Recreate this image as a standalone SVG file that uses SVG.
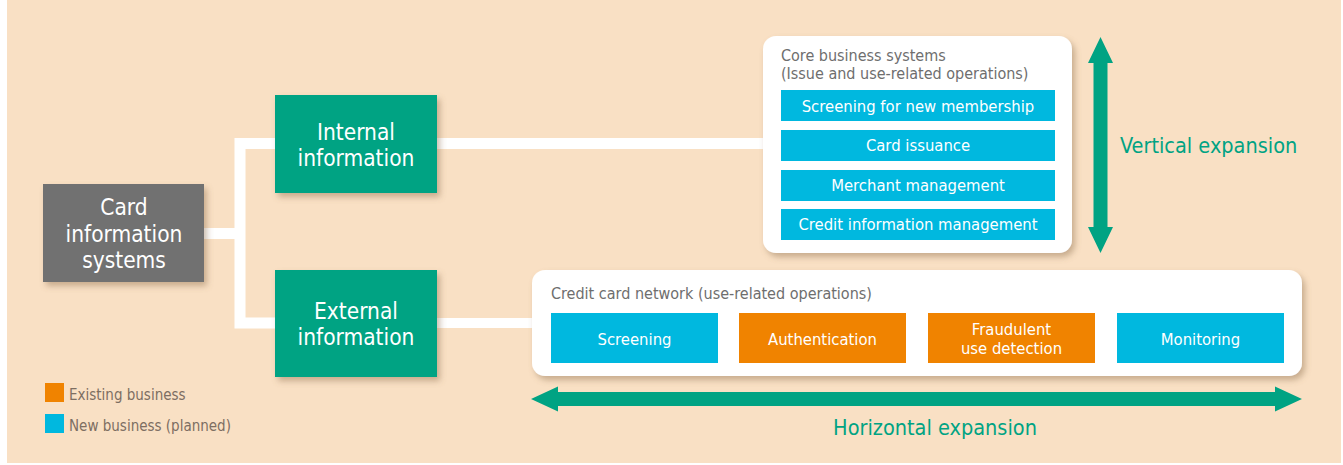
<svg xmlns="http://www.w3.org/2000/svg" width="1343" height="465" viewBox="0 0 1343 465">
<defs>
<style>
.t{font-family:"Liberation Sans Narrow","DejaVu Sans Condensed","Liberation Sans",sans-serif;}
.big{font-size:22.5px;fill:#fff;text-anchor:middle;}
.bar{font-size:16.5px;fill:#fff;text-anchor:middle;}
.ttl{font-size:16px;fill:#6e6e6e;}
.leg{font-size:15px;fill:#7d6e62;}
.exp{font-size:21.5px;fill:#00a383;}
.green{fill:#00a383;}
.blue{fill:#00b8df;}
.orange{fill:#f08300;}
.conn{stroke:#fff;fill:none;}
</style>
<filter id="sh" x="-10%" y="-10%" width="130%" height="140%">
<feDropShadow dx="3" dy="4" stdDeviation="3" flood-color="#8a6a4a" flood-opacity="0.45"/>
</filter>
</defs>
<rect x="0" y="0" width="1343" height="465" fill="#fff"/>
<rect x="7" y="0" width="1334" height="463" fill="#f9e0c4"/>

<g id="connectors">
<path class="conn" stroke-width="11" d="M204 233.5 H240 M240 138 V328 M234.5 143.5 H280 M234.5 323 H280"/>
<path class="conn" stroke-width="11" d="M437 143.5 H765"/>
<path class="conn" stroke-width="10" d="M437 323 H534"/>
</g>

<g id="card-info">
<rect x="43" y="184" width="161" height="98" fill="#717171" filter="url(#sh)"/>
<text class="t big"><tspan x="124" y="215">Card</tspan><tspan x="124" y="241.5">information</tspan><tspan x="124" y="268">systems</tspan></text>
</g>

<g id="internal-info">
<rect x="275" y="95" width="162" height="98" class="green" filter="url(#sh)"/>
<text class="t big"><tspan x="356" y="139.5">Internal</tspan><tspan x="356" y="166">information</tspan></text>
</g>

<g id="external-info">
<rect x="275" y="270" width="162" height="107" class="green" filter="url(#sh)"/>
<text class="t big"><tspan x="356" y="318.5">External</tspan><tspan x="356" y="345">information</tspan></text>
</g>

<g id="core-systems">
<rect x="763" y="36" width="309" height="217" rx="13" fill="#fff" filter="url(#sh)"/>
<text class="t ttl"><tspan x="781" y="61">Core business systems</tspan><tspan x="781" y="79">(Issue and use-related operations)</tspan></text>
<rect x="781" y="90" width="274" height="31" class="blue"/>
<text class="t bar" x="918" y="112">Screening for new membership</text>
<rect x="781" y="130" width="274" height="31" class="blue"/>
<text class="t bar" x="918" y="151">Card issuance</text>
<rect x="781" y="170" width="274" height="31" class="blue"/>
<text class="t bar" x="918" y="191">Merchant management</text>
<rect x="781" y="209" width="274" height="31" class="blue"/>
<text class="t bar" x="918" y="230">Credit information management</text>
</g>

<g id="credit-network">
<rect x="532" y="270" width="770" height="106" rx="13" fill="#fff" filter="url(#sh)"/>
<text class="t ttl" x="551" y="299">Credit card network (use-related operations)</text>
<rect x="551" y="313" width="167" height="50" class="blue"/>
<text class="t bar" x="634.5" y="345">Screening</text>
<rect x="739" y="313" width="167" height="50" class="orange"/>
<text class="t bar" x="822.5" y="345">Authentication</text>
<rect x="928" y="313" width="167" height="50" class="orange"/>
<text class="t bar"><tspan x="1011.5" y="335">Fraudulent</tspan><tspan x="1011.5" y="354">use detection</tspan></text>
<rect x="1117" y="313" width="167" height="50" class="blue"/>
<text class="t bar" x="1200.5" y="345">Monitoring</text>
</g>

<g id="vertical-expansion">
<polygon class="green" points="1100.5,37 1113,63 1107.5,63 1107.5,227 1113,227 1100.5,253 1088,227 1093.5,227 1093.5,63 1088,63"/>
<text class="t exp" x="1120" y="153">Vertical expansion</text>
</g>

<g id="horizontal-expansion">
<polygon class="green" points="531,399 558,386.5 558,392 1275,392 1275,386.5 1302,399 1275,411.5 1275,406 558,406 558,411.5"/>
<text class="t exp" x="935" y="435" text-anchor="middle">Horizontal expansion</text>
</g>

<g id="legend">
<rect x="45" y="383" width="19" height="19" class="orange"/>
<text class="t leg" x="69" y="400">Existing business</text>
<rect x="45" y="414" width="19" height="19" class="blue"/>
<text class="t leg" x="69" y="431">New business (planned)</text>
</g>
</svg>
